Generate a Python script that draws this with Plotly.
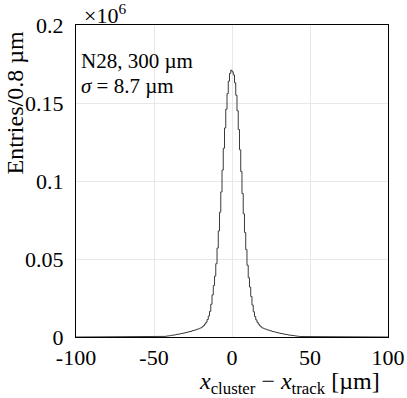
import plotly.graph_objects as go

# Histogram of x_cluster - x_track, bin width 0.8 um, values in units of 1e6 entries
bin_width = 0.8
x_min, x_max = -100.0, 100.0
# non-empty region: bin centres from -47.6 to 47.6
core_start = -47.6
counts_core = [
    # -47.6 ... -0.4
    0.00001, 0.00003, 0.00006, 0.00012, 0.0002, 0.0003, 0.0004, 0.0005, 0.0006, 0.0008,
    0.0009, 0.0010, 0.0011, 0.0013, 0.0014, 0.0016, 0.0017, 0.0019, 0.0020, 0.0022,
    0.0024, 0.0025, 0.0027, 0.0029, 0.0031, 0.0033, 0.0035, 0.0037, 0.0040, 0.0042,
    0.0045, 0.0047, 0.0050, 0.0053, 0.0056, 0.0060, 0.0066, 0.0073, 0.0083, 0.0095,
    0.0112, 0.0135, 0.0165, 0.021, 0.027, 0.033, 0.039, 0.047, 0.057, 0.068,
    0.080, 0.093, 0.107, 0.121, 0.134, 0.146, 0.156, 0.164, 0.169, 0.171,
    # 0.4 ... 47.6
    0.170, 0.168, 0.163, 0.155, 0.145, 0.133, 0.120, 0.106, 0.092, 0.079,
    0.067, 0.056, 0.046, 0.038, 0.032, 0.026, 0.0205, 0.0162, 0.0132, 0.0110,
    0.0094, 0.0082, 0.0072, 0.0065, 0.0059, 0.0055, 0.0052, 0.0049, 0.0046, 0.0044,
    0.0041, 0.0039, 0.0036, 0.0034, 0.0032, 0.0030, 0.0028, 0.0026, 0.0024, 0.0023,
    0.0021, 0.0019, 0.0018, 0.0016, 0.0015, 0.0013, 0.0012, 0.0011, 0.0010, 0.0009,
    0.0008, 0.0006, 0.0005, 0.0004, 0.0003, 0.0002, 0.00012, 0.00006, 0.00003, 0.00001,
]
x_ticks = [-100, -50, 0, 50, 100]
x_tick_labels = ["-100", "-50", "0", "50", "100"]
y_ticks = [0, 0.05, 0.1, 0.15, 0.2]
y_tick_labels = ["0", "0.05", "0.1", "0.15", "0.2"]

n_bins = int(round((x_max - x_min) / bin_width))
centres = [x_min + bin_width * (i + 0.5) for i in range(n_bins)]
start_idx = int(round((core_start - (x_min + bin_width / 2)) / bin_width))
counts = [0.0] * n_bins
for i, v in enumerate(counts_core):
    counts[start_idx + i] = v

# step line through bin edges
xs, ys = [x_min], [0.0]
for c, v in zip(centres, counts):
    xs += [c - bin_width / 2, c + bin_width / 2]
    ys += [v, v]
xs.append(x_max)
ys.append(0.0)

font = "Liberation Serif"
fig = go.Figure()
fig.add_trace(go.Scatter(x=xs, y=ys, mode="lines",
                         line=dict(color="#3a3a3a", width=1), hoverinfo="skip"))

fig.update_layout(
    width=407, height=398,
    margin=dict(l=76, r=19, t=25, b=61, autoexpand=False),
    paper_bgcolor="white", plot_bgcolor="white",
    showlegend=False,
    font=dict(family=font, size=22, color="black"),
    xaxis=dict(range=[x_min, x_max], tickvals=x_ticks, ticktext=x_tick_labels,
               showgrid=True, gridcolor="#e8e8e8", gridwidth=1, automargin=False,
               showline=True, linecolor="black", linewidth=1, mirror=True,
               ticks="", zeroline=False, ticklabelstandoff=1),
    yaxis=dict(range=[0, 0.2], tickvals=y_ticks, ticktext=y_tick_labels,
               showgrid=True, gridcolor="#e8e8e8", gridwidth=1, automargin=False,
               showline=True, linecolor="black", linewidth=1, mirror=True,
               ticks="", zeroline=False, ticklabelstandoff=7),
)

fig.add_annotation(text="×10<sup>6</sup>", xref="paper", yref="paper", x=0.0, y=1.0,
                   xanchor="left", yanchor="bottom", showarrow=False, xshift=6, yshift=-5,
                   font=dict(family=font, size=22))
fig.add_annotation(text="N28, 300 µm", xref="paper", yref="paper", x=0.0, y=0.884,
                   xanchor="left", yanchor="middle", showarrow=False, xshift=3,
                   font=dict(family=font, size=21))
fig.add_annotation(text="<i>σ</i> = 8.7 µm", xref="paper", yref="paper", x=0.0, y=0.806,
                   xanchor="left", yanchor="middle", showarrow=False, xshift=3,
                   font=dict(family=font, size=21))
fig.add_annotation(text="<i>x</i><sub>cluster</sub> − <i>x</i><sub>track</sub> [µm]",
                   xref="paper", yref="paper", x=1.0, y=0, xanchor="right", yanchor="top",
                   yshift=-29, xshift=-6, showarrow=False, font=dict(family=font, size=24))
fig.add_annotation(text="Entries/0.8 µm", xref="paper", yref="paper", x=0, y=1.0,
                   xanchor="center", yanchor="top", textangle=-90, xshift=-62, yshift=-5,
                   showarrow=False, font=dict(family=font, size=24))

fig.write_html("out.html", config={"displayModeBar": False},
               post_script="document.body.style.margin='0';document.body.style.overflow='hidden';")
